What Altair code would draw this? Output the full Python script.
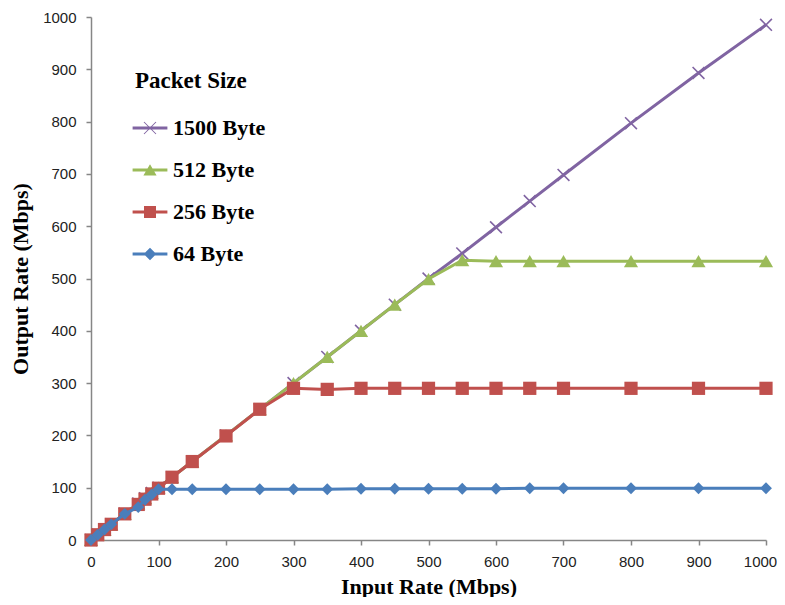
import altair as alt
import pandas as pd

# ---- data ----
series = ["1500 Byte", "512 Byte", "256 Byte", "64 Byte"]
colors = ["#8064A2", "#9BBB59", "#C0504D", "#4A7EBB"]

input_rate = [0, 10, 20, 30, 50, 70, 80, 90, 100, 120, 150, 200, 250, 300,
              350, 400, 450, 500, 550, 600, 650, 700, 800, 900, 1000]

out_1500 = [0, 10, 20, 30, 50, 70, 80, 90, 100, 120, 150, 200, 250, 300,
            350, 400, 450, 500, 548, 598, 648, 698, 797, 893, 985]
out_512 = [0, 10, 20, 30, 50, 70, 80, 90, 100, 120, 150, 200, 250, 300,
           350, 400, 450, 499, 535, 533, 533, 533, 533, 533, 533]
out_256 = [0, 10, 20, 30, 50, 68, 78, 88, 99, 120, 150, 199, 250, 290,
           288, 290, 290, 290, 290, 290, 290, 290, 290, 290, 290]
out_64 = [0, 10, 20, 30, 50, 63, 77, 87, 97, 97, 97, 97, 97, 97,
          97, 98, 98, 98, 98, 98, 99, 99, 99, 99, 99]

values = {"1500 Byte": out_1500, "512 Byte": out_512,
          "256 Byte": out_256, "64 Byte": out_64}

rows = []
for s in series:
    for xv, yv in zip(input_rate, values[s]):
        rows.append({"series": s, "input": xv, "output": yv})
df = pd.DataFrame(rows)

ticks = list(range(0, 1001, 100))

serif = "Liberation Serif"
sans = "Liberation Sans"
axis_gray = "#868686"

x_enc = alt.X("input:Q",
              scale=alt.Scale(domain=[0, 1000], nice=False),
              axis=alt.Axis(values=ticks, title="Input Rate (Mbps)", format="d",
                            labelFlush=False, labelPadding=9, titlePadding=7,
                            labelOffset={"condition": {"test": "datum.value === 1000",
                                                       "value": -6},
                                         "value": 0}))
y_enc = alt.Y("output:Q",
              scale=alt.Scale(domain=[0, 1000], nice=False),
              axis=alt.Axis(values=ticks, title="Output Rate (Mbps)", format="d",
                            labelFlush=False, labelPadding=10, titlePadding=10))

# chart marker shapes
chart_shapes = {
    "1500 Byte": "M-1,-1L1,1M-1,1L1,-1",
    "512 Byte": "triangle-up",
    "256 Byte": "square",
    "64 Byte": "diamond",
}
chart_sizes = {"1500 Byte": 140, "512 Byte": 200, "256 Byte": 175, "64 Byte": 140}

# legend symbols: line segment + marker
bar = "M-2.9,-0.25H2.9V0.25H-2.9Z"
legend_paths = [
    bar + "M-0.94,-1.06L1.06,0.94L0.94,1.06L-1.06,-0.94Z"
        + "M0.94,-1.06L1.06,-0.94L-0.94,1.06L-1.06,0.94Z",
    bar + "M0,-0.95L1.1,0.9L-1.1,0.9Z",
    bar + "M-1,-1H1V1H-1Z",
    bar + "M-1.05,0L0,-1.05L1.05,0L0,1.05Z",
]

layers = []
for s, c in zip(series, colors):
    sub = alt.Chart(df).transform_filter(alt.datum.series == s)
    line = sub.mark_line(color=c, strokeWidth=3).encode(x=x_enc, y=y_enc)
    if s == "1500 Byte":
        pts = sub.mark_point(shape=chart_shapes[s], filled=False, color=c,
                             strokeWidth=1.6, size=chart_sizes[s], opacity=1)
    else:
        pts = sub.mark_point(shape=chart_shapes[s], filled=True, color=c,
                             size=chart_sizes[s], opacity=1, strokeWidth=0)
    layers += [line, pts.encode(x=x_enc, y=y_enc)]

legend = alt.Legend(title="Packet Size", orient="none", legendX=44, legendY=53,
                    titleFont=serif, titleFontSize=23, titleFontWeight="bold",
                    titleColor="black", titlePadding=24,
                    labelFont=serif, labelFontSize=22, labelFontWeight="bold",
                    labelColor="black", labelOffset=12, symbolOffset=4,
                    symbolSize=144, symbolStrokeWidth=0, symbolOpacity=1,
                    rowPadding=20, padding=0)

legend_layer = alt.Chart(df).transform_filter("false").mark_point(
    filled=True, opacity=1).encode(
    x=x_enc, y=y_enc,
    color=alt.Color("series:N", scale=alt.Scale(domain=series, range=colors),
                    legend=legend),
    shape=alt.Shape("series:N", scale=alt.Scale(domain=series, range=legend_paths),
                    legend=legend),
)
layers.append(legend_layer)

chart = alt.layer(*layers).properties(
    width=675, height=523,
    autosize=alt.AutoSizeParams(type="none"),
    padding={"left": 83, "top": 9, "right": 11, "bottom": 57},
).configure_view(stroke=None).configure_axis(
    grid=False, domainColor=axis_gray, domainWidth=1.5,
    tickColor=axis_gray, tickWidth=1.5, tickSize=5,
    labelFont=sans, labelFontSize=15, labelColor="#222",
    titleFont=serif, titleFontSize=22, titleFontWeight="bold", titleColor="black",
)

chart.save("out.html", embed_options={"renderer": "svg", "actions": False})
